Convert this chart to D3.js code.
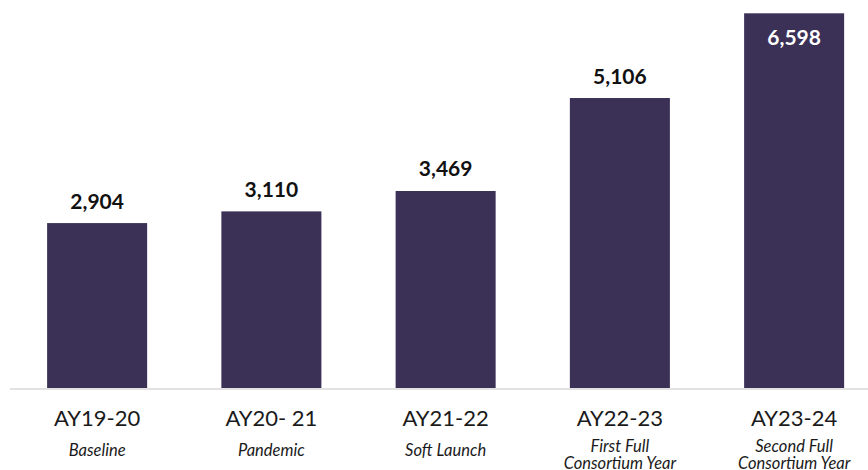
<!DOCTYPE html>
<html>
<head>
<meta charset="utf-8">
<script src="https://cdn.jsdelivr.net/npm/d3@7"></script>
<style>
  body { margin: 0; background: #fff; }
  svg { display: block; font-family: Lato, "Open Sans", sans-serif; }
</style>
</head>
<body>
<svg id="chart" width="868" height="470"></svg>
<script>
var years = ["AY19-20", "AY20- 21", "AY21-22", "AY22-23", "AY23-24"];
var phases = [["Baseline"], ["Pandemic"], ["Soft Launch"], ["First Full", "Consortium Year"], ["Second Full", "Consortium Year"]];
var students = [2904, 3110, 3469, 5106, 6598];

var svg = d3.select("#chart");
var width = 868;
var baseY = 388;

var x = d3.scaleBand()
    .domain(years)
    .range([10, 881.25])
    .paddingInner(0.426)
    .paddingOuter(0.213);

var y = d3.scaleLinear()
    .domain([0, 6598])
    .range([baseY, 13.3]);

var barColor = "#3b3056";

// axis line
svg.append("line")
    .attr("x1", 10)
    .attr("x2", width)
    .attr("y1", baseY + 1)
    .attr("y2", baseY + 1)
    .attr("stroke", "#d9d9d9")
    .attr("stroke-width", 1.5);

var bars = svg.append("g").selectAll("rect")
    .data(students)
    .enter().append("rect")
    .attr("x", function (d, i) { return x(years[i]); })
    .attr("y", function (d) { return y(d); })
    .attr("width", x.bandwidth())
    .attr("height", function (d) { return baseY - y(d); })
    .attr("fill", barColor);

// value labels, last one sits inside the bar
svg.append("g").selectAll("text")
    .data(students)
    .enter().append("text")
    .attr("x", function (d, i) { return x(years[i]) + x.bandwidth() / 2; })
    .attr("y", function (d, i) {
        return i === students.length - 1 ? y(d) + 31.5 : y(d) - 14.5;
    })
    .attr("text-anchor", "middle")
    .attr("font-size", "21px")
    .attr("font-weight", "bold")
    .attr("fill", function (d, i) { return i === students.length - 1 ? "#fff" : "#111"; })
    .text(function (d) { return d3.format(",")(d); });

// category labels
var cat = svg.append("g").selectAll("g")
    .data(years)
    .enter().append("g")
    .attr("transform", function (d) { return "translate(" + (x(d) + x.bandwidth() / 2) + ",0)"; });

cat.append("text")
    .attr("y", 426)
    .attr("text-anchor", "middle")
    .attr("font-size", "22px")
    .attr("fill", "#1a1a1a")
    .text(function (d) { return d; });

cat.each(function (d, i) {
    var lines = phases[i];
    var g = d3.select(this);
    var startY = lines.length > 1 ? 452 : 456;
    lines.forEach(function (line, j) {
        g.append("text")
            .attr("y", startY + j * 17)
            .attr("text-anchor", "middle")
            .attr("font-size", "16.5px")
            .attr("font-style", "italic")
            .attr("fill", "#1a1a1a")
            .text(line);
    });
});
</script>
</body>
</html>
